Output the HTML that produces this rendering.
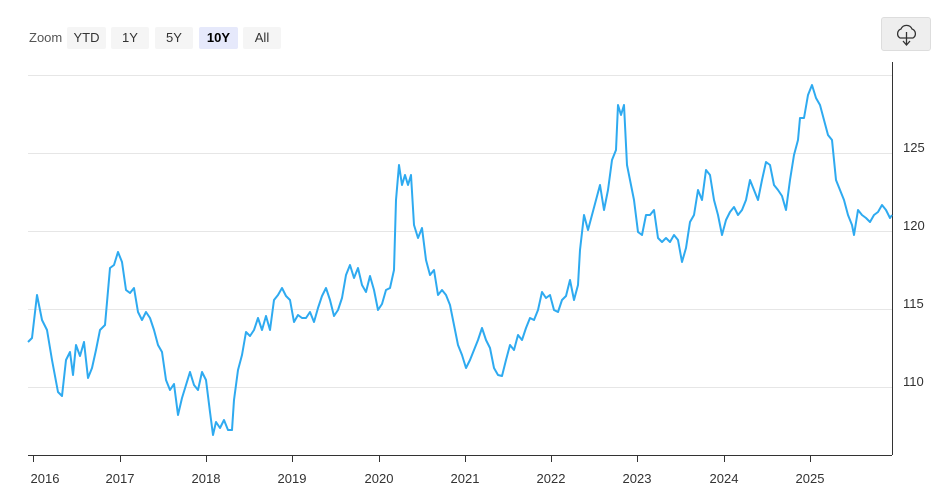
<!DOCTYPE html>
<html><head><style>
body{margin:0;background:#fff;font-family:"Liberation Sans",sans-serif;}
.b{position:absolute;top:27px;height:22px;line-height:22px;font-size:13px;color:#333;background:#f5f5f5;text-align:center;border-radius:2px}
</style></head><body>
<div style="position:relative;width:952px;height:504px;overflow:hidden">
<div style="position:absolute;left:29px;top:27px;line-height:22px;font-size:13px;color:#555">Zoom</div>
<div class="b" style="left:67px;width:39px">YTD</div>
<div class="b" style="left:111px;width:38px">1Y</div>
<div class="b" style="left:155px;width:38px">5Y</div>
<div class="b" style="left:199px;width:39px;background:#e6e9fb;font-weight:bold;color:#000">10Y</div>
<div class="b" style="left:243px;width:38px">All</div>
<div style="position:absolute;left:881px;top:17px;width:50px;height:34px;background:#eee;border:1px solid #ddd;border-radius:3px;box-sizing:border-box"></div>
<svg width="952" height="504" style="position:absolute;left:0;top:0">
<g fill="none" stroke="#333" stroke-width="1.3"><path d="M900 38 a5 5 0 0 1 1-9 a6 6 0 0 1 11 0 a5 5 0 0 1 1 9 z"/><path d="M906.5 32 v13 M903 41 l3.5 4 l3.5-4"/></g>
<g stroke="#e6e6e6"><line x1="28" x2="892" y1="75.5" y2="75.5"/><line x1="28" x2="892" y1="153.5" y2="153.5"/><line x1="28" x2="892" y1="231.5" y2="231.5"/><line x1="28" x2="892" y1="309.5" y2="309.5"/><line x1="28" x2="892" y1="387.5" y2="387.5"/></g>
<line x1="892.5" y1="62" x2="892.5" y2="455" stroke="#333"/>
<line x1="28" y1="455.5" x2="892" y2="455.5" stroke="#333"/>
<g stroke="#333"><line x1="33.5" x2="33.5" y1="455" y2="462"/><line x1="120.5" x2="120.5" y1="455" y2="462"/><line x1="206.5" x2="206.5" y1="455" y2="462"/><line x1="292.5" x2="292.5" y1="455" y2="462"/><line x1="379.5" x2="379.5" y1="455" y2="462"/><line x1="465.5" x2="465.5" y1="455" y2="462"/><line x1="551.5" x2="551.5" y1="455" y2="462"/><line x1="637.5" x2="637.5" y1="455" y2="462"/><line x1="724.5" x2="724.5" y1="455" y2="462"/><line x1="810.5" x2="810.5" y1="455" y2="462"/></g>
<g font-size="13" fill="#333" font-family="Liberation Sans,sans-serif">
<text x="903" y="152">125</text><text x="903" y="230">120</text><text x="903" y="308">115</text><text x="903" y="386">110</text>
<g text-anchor="middle"><text x="45" y="483">2016</text><text x="120" y="483">2017</text><text x="206" y="483">2018</text><text x="292" y="483">2019</text><text x="379" y="483">2020</text><text x="465" y="483">2021</text><text x="551" y="483">2022</text><text x="637" y="483">2023</text><text x="724" y="483">2024</text><text x="810" y="483">2025</text></g>
</g>
<polyline fill="none" stroke="#2eaaf0" stroke-width="2" stroke-linejoin="round" points="28,342 32,338 37,295 42,320 47,330 52,360 58,392 62,396 66,360 70,352 73,375 76,345 80,356 84,342 88,378 92,368 96,350 100,330 105,325 110,268 114,265 118,252 122,262 126,290 130,293 134,288 138,312 142,320 146,312 150,318 154,330 158,345 162,352 166,380 170,390 174,384 178,415 182,398 186,385 190,372 194,385 198,390 202,372 206,380 210,412 213,435 216,422 220,428 224,420 228,430 232,430 234,400 238,370 242,355 246,332 250,336 254,330 258,318 262,330 266,316 270,330 274,300 278,295 282,288 286,296 290,300 294,322 298,315 302,318 306,318 310,312 314,322 318,308 322,296 326,288 330,300 334,316 338,310 342,298 346,275 350,265 354,278 358,268 362,285 366,292 370,276 374,290 378,310 382,304 386,290 390,288 394,270 396,200 399,165 402,185 405,175 408,185 411,175 414,225 418,238 422,228 426,260 430,275 434,270 438,295 442,290 446,295 450,305 454,325 458,345 462,355 466,368 470,360 474,350 478,340 482,328 486,340 490,348 494,368 498,375 502,376 506,360 510,345 514,350 518,335 522,340 526,328 530,318 534,320 538,310 542,292 546,298 550,295 554,310 558,312 562,300 566,296 570,280 574,300 578,285 580,250 584,215 588,230 592,215 596,200 600,185 604,210 608,190 612,160 616,150 618,105 621,115 624,105 627,165 630,180 634,200 638,232 642,235 646,215 650,215 654,210 658,238 662,242 666,238 670,242 674,235 678,240 682,262 686,248 690,222 694,215 698,190 702,200 706,170 710,175 714,200 718,215 722,235 726,220 730,212 734,207 738,215 742,210 746,200 750,180 754,190 758,200 762,180 766,162 770,165 774,185 778,190 782,196 786,210 790,180 794,155 798,140 800,118 804,118 808,95 812,85 816,98 820,105 824,120 828,135 832,140 836,180 840,190 844,200 848,215 852,225 854,235 858,210 862,215 866,218 870,222 874,215 878,212 882,205 886,210 890,218 892,215"/>
</svg>
</div>
</body></html>
